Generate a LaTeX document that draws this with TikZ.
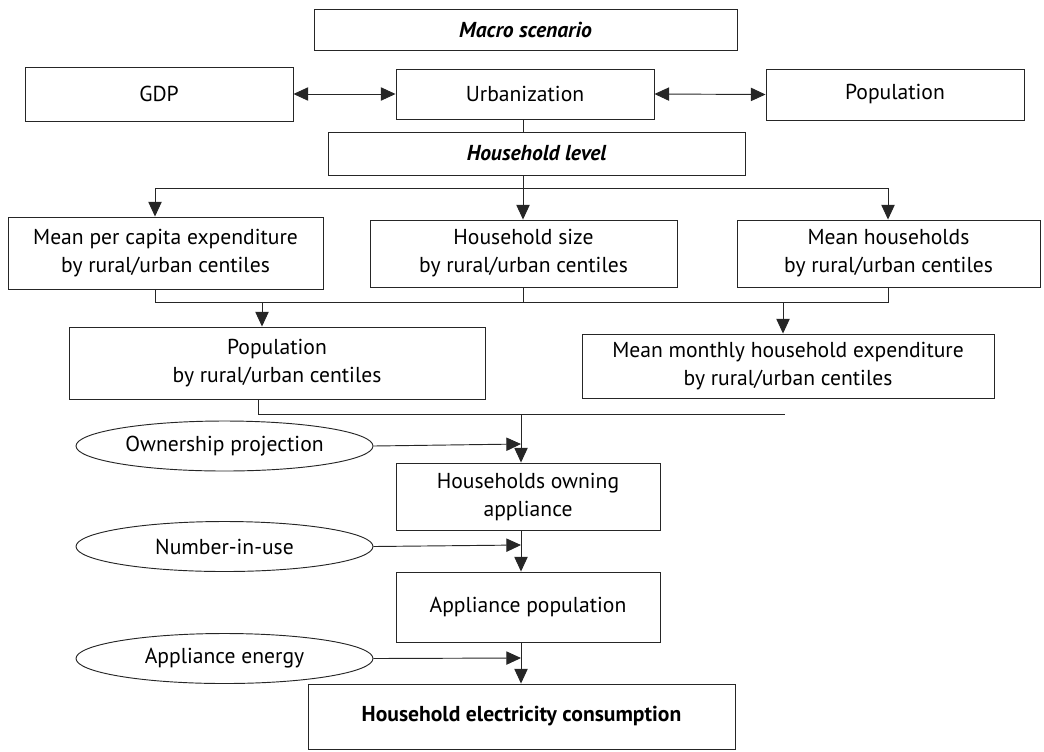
\documentclass[tikz,border=0pt]{standalone}
\usepackage{fontspec}
\setmainfont{PT Sans}
\usetikzlibrary{arrows.meta,shapes.geometric}
\begin{document}
\begin{tikzpicture}[x=0.75pt,y=-0.75pt,
  txt/.style={font=\fontsize{16.2}{21}\selectfont},
  box/.style={draw=black!85, line width=0.7pt, inner sep=0pt, align=center, txt},
  oval/.style={ellipse, draw=black!85, line width=0.7pt, minimum width=222.75pt, minimum height=37.5pt, inner sep=0pt, txt},
  line/.style={draw=black!85, line width=0.7pt},
  arr/.style={line, -{Triangle[length=11pt,width=10pt]}},
  darr/.style={line, {Triangle[length=11pt,width=10pt]}-{Triangle[length=11pt,width=10pt]}}]
\useasboundingbox (0,0) rectangle (1044,751);

% boxes
\node[box, minimum width=317.25pt, minimum height=30.75pt] (macro) at (525.5,29.5) {\bfseries\itshape Macro scenario};
\node[box, minimum width=201pt, minimum height=40.5pt] (gdp) at (159,94) {GDP};
\node[box, minimum width=193.5pt, minimum height=37.5pt] (urb) at (525,94) {Urbanization};
\node[box, minimum width=193.5pt, minimum height=38.25pt] (pop) at (895,94.5) {Population};
\node[box, minimum width=312.75pt, minimum height=32.25pt] (hh) at (536.5,153.5) {\bfseries\itshape Household level};
\node[box, minimum width=236.25pt, minimum height=54pt] (mpce) at (165.5,253) {Mean per capita expenditure\\by rural/urban centiles};
\node[box, minimum width=230.25pt, minimum height=50.25pt] (hhs) at (523.5,253.5) {Household size\\by rural/urban centiles};
\node[box, minimum width=227.25pt, minimum height=50.25pt] (mhh) at (888.5,253.5) {Mean households\\by rural/urban centiles};
\node[box, minimum width=312pt, minimum height=54pt] (popc) at (277,363) {Population\\by rural/urban centiles};
\node[box, minimum width=309pt, minimum height=48pt] (mmhe) at (788,366) {Mean monthly household expenditure\\by rural/urban centiles};
\node[box, minimum width=198pt, minimum height=50.25pt] (own) at (528,496.5) {Households owning\\appliance};
\node[box, minimum width=198pt, minimum height=52.5pt] (app) at (528,607) {Appliance population};
\node[box, minimum width=320.25pt, minimum height=48.75pt] (elec) at (521.5,716.5) {\bfseries Household electricity consumption};

% ellipses
\node[oval] (eown) at (224.5,446) {Ownership projection};
\node[oval] (enum) at (224.5,546.5) {Number-in-use};
\node[oval] (eener) at (224.5,658.5) {Appliance energy};

% junction coordinates
\coordinate (s1) at (155,188);
\coordinate (s2) at (523,188);
\coordinate (s3) at (888,188);
\coordinate (m1) at (155,302);
\coordinate (m3) at (888,302);
\coordinate (d1) at (262,302);
\coordinate (d2) at (783,302);
\coordinate (n1) at (258,414);
\coordinate (n2) at (785,414);
\coordinate (c) at (521,414);
\coordinate (j1) at (521,444);
\coordinate (j2) at (521,545);
\coordinate (j3) at (521,658);

% top connectors
\draw[darr] (gdp.east) -- (urb.west);
\draw[darr] (urb.east) -- (pop.west);
\draw[line] (urb.south -| s2) -- (hh.north -| s2);

% household level to three boxes
\draw[line] (hh.south -| s2) -- (s2);
\draw[line] (s1) -- (s3);
\draw[arr] (s1) -- (s1 |- mpce.north);
\draw[arr] (s2) -- (s2 |- hhs.north);
\draw[arr] (s3) -- (s3 |- mhh.north);

% merge to population / expenditure
\draw[line] (mpce.south -| m1) -- (m1) -- (m3) -- (mhh.south -| m3);
\draw[line] (hhs.south -| s2) -- (s2 |- m1);
\draw[arr] (d1) -- (d1 |- popc.north);
\draw[arr] (d2) -- (d2 |- mmhe.north);

% merge to appliance chain
\draw[line] (popc.south -| n1) -- (n1) -- (n2);
\draw[arr] (c) -- (c |- own.north);
\draw[arr] (eown.east) -- (j1);
\draw[arr] (own.south -| c) -- (c |- app.north);
\draw[arr] (enum.east) -- (j2);
\draw[arr] (app.south -| c) -- (c |- elec.north);
\draw[arr] (eener.east) -- (j3);
\end{tikzpicture}
\end{document}
